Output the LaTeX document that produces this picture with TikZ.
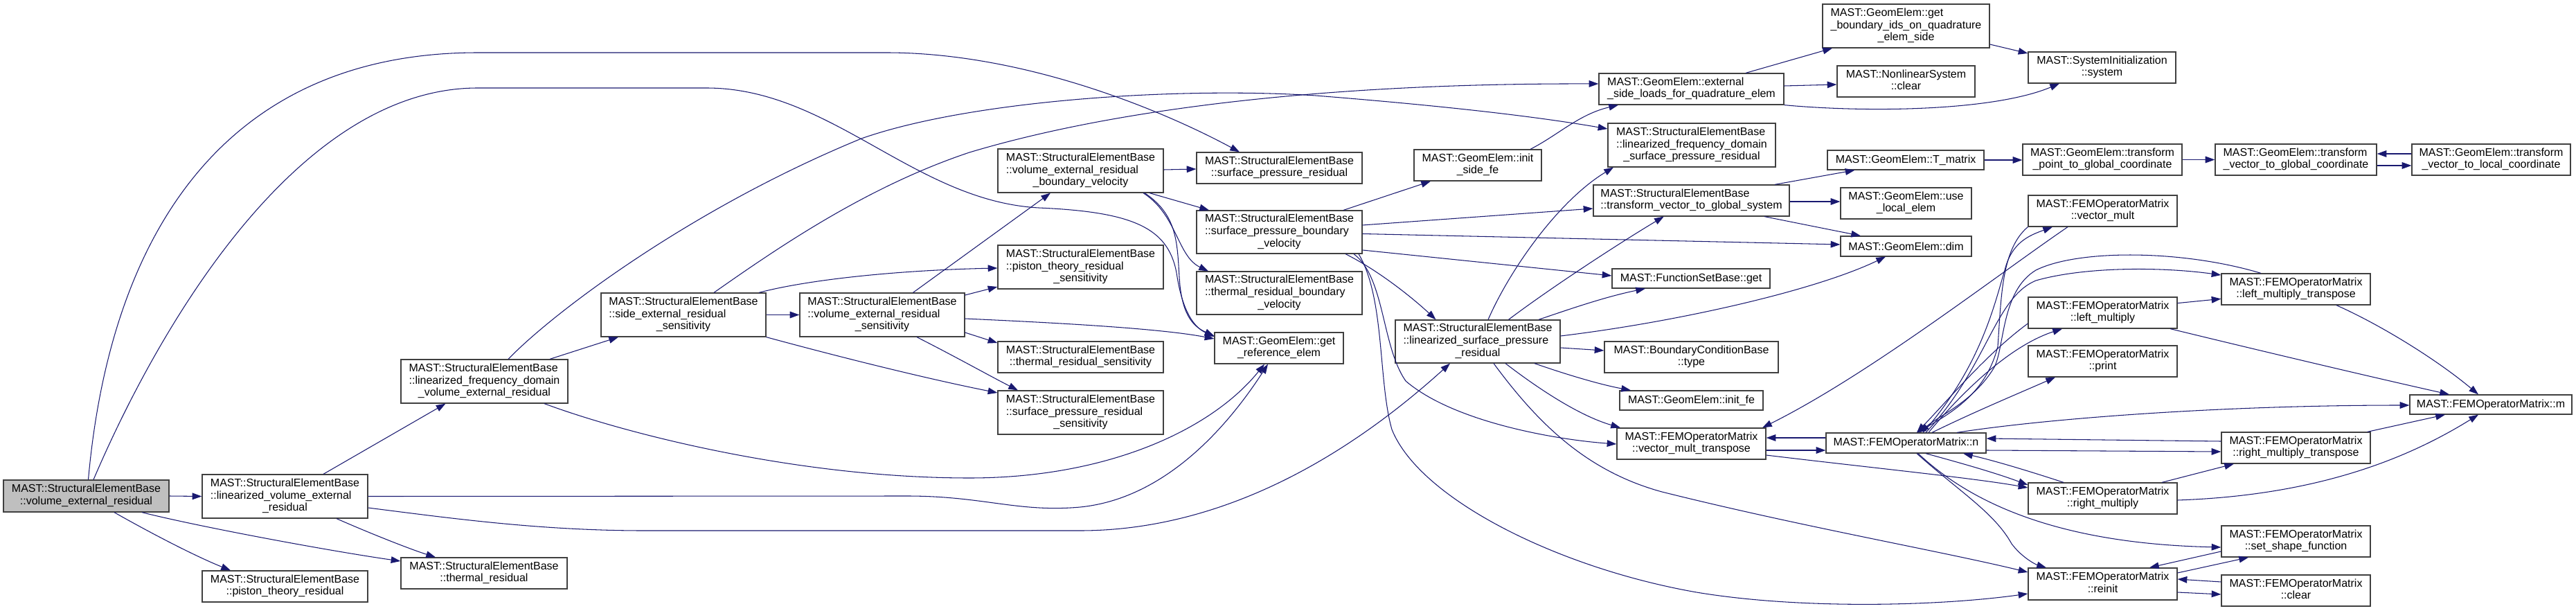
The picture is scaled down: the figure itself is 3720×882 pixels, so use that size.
\documentclass[tikz,border=0pt]{standalone}
\usepackage{fontspec}
\setmainfont{Liberation Sans}
\usetikzlibrary{arrows.meta}
\definecolor{edgec}{HTML}{191970}
\definecolor{boxline}{HTML}{404040}
\definecolor{rootfill}{HTML}{BFBFBF}
\newcommand{\lab}[2]{\begin{tabular}{@{}l@{}}#1\\\multicolumn{1}{@{}c@{}}{#2}\end{tabular}}
\newcommand{\bx}[7][]{%
  \pgfmathsetlengthmacro{\myBW}{(#4-#3)*0.02cm}%
  \pgfmathsetlengthmacro{\myBH}{(#6-#5)*0.02cm}%
  \node[fnbox,#1,minimum width=\myBW,minimum height=\myBH] (#2) at ({(#3+#4)/2},{(#5+#6)/2}) {#7};}
\tikzset{
  fnbox/.style={draw=boxline, line width=0.7pt, fill=white, inner sep=0pt,
    font=\fontsize{9.1pt}{10.03pt}\selectfont},
  rootbox/.style={fill=rootfill},
  calledge/.style={draw=edgec, line width=0.6pt, -{Triangle[length=7.8pt,width=5.5pt]}}
}
\begin{document}
\begin{tikzpicture}[x=0.02cm,y=-0.02cm]
\path[use as bounding box, fill=white] (0,0) rectangle (3720,882);
% nodes
\bx[rootbox]{root}{5}{244}{693}{739}{\lab{MAST::StructuralElementBase}{::volume\_external\_residual}}
\bx{linVol}{292}{531}{685}{748}{\lab{MAST::StructuralElementBase\\::linearized\_volume\_external}{\_residual}}
\bx{piston}{292}{531}{824}{869}{\lab{MAST::StructuralElementBase}{::piston\_theory\_residual}}
\bx{linFreqVol}{579}{820}{519}{582}{\lab{MAST::StructuralElementBase\\::linearized\_frequency\_domain}{\_volume\_external\_residual}}
\bx{thermal}{579}{819}{805}{850}{\lab{MAST::StructuralElementBase}{::thermal\_residual}}
\bx{sideExt}{868}{1106}{423}{486}{\lab{MAST::StructuralElementBase\\::side\_external\_residual}{\_sensitivity}}
\bx{volExtSens}{1155}{1393}{423}{486}{\lab{MAST::StructuralElementBase\\::volume\_external\_residual}{\_sensitivity}}
\bx{volExtBV}{1441}{1680}{215}{278}{\lab{MAST::StructuralElementBase\\::volume\_external\_residual}{\_boundary\_velocity}}
\bx{pistonSens}{1441}{1680}{354}{417}{\lab{MAST::StructuralElementBase\\::piston\_theory\_residual}{\_sensitivity}}
\bx{thermSens}{1441}{1680}{493}{538}{\lab{MAST::StructuralElementBase}{::thermal\_residual\_sensitivity}}
\bx{surfPresSens}{1441}{1680}{564}{627}{\lab{MAST::StructuralElementBase\\::surface\_pressure\_residual}{\_sensitivity}}
\bx{surfPres}{1728}{1967}{220}{265}{\lab{MAST::StructuralElementBase}{::surface\_pressure\_residual}}
\bx{spbv}{1728}{1967}{304}{366}{\lab{MAST::StructuralElementBase\\::surface\_pressure\_boundary}{\_velocity}}
\bx{trbv}{1728}{1967}{392}{454}{\lab{MAST::StructuralElementBase\\::thermal\_residual\_boundary}{\_velocity}}
\bx{getRef}{1754}{1940}{480}{525}{\lab{MAST::GeomElem::get}{\_reference\_elem}}
\bx{initSide}{2042}{2226}{216}{261}{\lab{MAST::GeomElem::init}{\_side\_fe}}
\bx{extSide}{2309}{2576}{106}{151}{\lab{MAST::GeomElem::external}{\_side\_loads\_for\_quadrature\_elem}}
\bx{linFreqSurf}{2322}{2564}{178}{241}{\lab{MAST::StructuralElementBase\\::linearized\_frequency\_domain}{\_surface\_pressure\_residual}}
\bx{tvgs}{2301}{2584}{267}{312}{\lab{MAST::StructuralElementBase}{::transform\_vector\_to\_global\_system}}
\bx{fsbGet}{2328}{2556}{388}{416}{MAST::FunctionSetBase::get}
\bx{linSurfPres}{2015}{2253}{462}{524}{\lab{MAST::StructuralElementBase\\::linearized\_surface\_pressure}{\_residual}}
\bx{bcType}{2317}{2568}{493}{538}{\lab{MAST::BoundaryConditionBase}{::type}}
\bx{initFe}{2339}{2546}{564}{592}{MAST::GeomElem::init\_fe}
\bx{vmt}{2335}{2550}{618}{663}{\lab{MAST::FEMOperatorMatrix}{::vector\_mult\_transpose}}
\bx{getBnd}{2632}{2873}{6}{69}{\lab{MAST::GeomElem::get\\\_boundary\_ids\_on\_quadrature}{\_elem\_side}}
\bx{nlClear}{2653}{2852}{95}{140}{\lab{MAST::NonlinearSystem}{::clear}}
\bx{sysInit}{2929}{3142}{75}{120}{\lab{MAST::SystemInitialization}{::system}}
\bx{Tmat}{2639}{2865}{217}{245}{MAST::GeomElem::T\_matrix}
\bx{tpg}{2921}{3151}{208}{253}{\lab{MAST::GeomElem::transform}{\_point\_to\_global\_coordinate}}
\bx{tvg}{3199}{3432}{208}{253}{\lab{MAST::GeomElem::transform}{\_vector\_to\_global\_coordinate}}
\bx{tvl}{3483}{3712}{208}{253}{\lab{MAST::GeomElem::transform}{\_vector\_to\_local\_coordinate}}
\bx{useLocal}{2658}{2847}{271}{316}{\lab{MAST::GeomElem::use}{\_local\_elem}}
\bx{dim}{2658}{2847}{341}{370}{MAST::GeomElem::dim}
\bx{vmult}{2929}{3144}{282}{327}{\lab{MAST::FEMOperatorMatrix}{::vector\_mult}}
\bx{lmt}{3208}{3423}{395}{440}{\lab{MAST::FEMOperatorMatrix}{::left\_multiply\_transpose}}
\bx{lm}{2929}{3144}{429}{474}{\lab{MAST::FEMOperatorMatrix}{::left\_multiply}}
\bx{print}{2929}{3144}{499}{544}{\lab{MAST::FEMOperatorMatrix}{::print}}
\bx{m}{3480}{3714}{570}{598}{MAST::FEMOperatorMatrix::m}
\bx{n}{2637}{2868}{625}{654}{MAST::FEMOperatorMatrix::n}
\bx{rmt}{3208}{3423}{624}{669}{\lab{MAST::FEMOperatorMatrix}{::right\_multiply\_transpose}}
\bx{rm}{2929}{3144}{697}{742}{\lab{MAST::FEMOperatorMatrix}{::right\_multiply}}
\bx{ssf}{3208}{3423}{759}{804}{\lab{MAST::FEMOperatorMatrix}{::set\_shape\_function}}
\bx{reinit}{2929}{3144}{820}{866}{\lab{MAST::FEMOperatorMatrix}{::reinit}}
\bx{clear}{3208}{3423}{830}{875}{\lab{MAST::FEMOperatorMatrix}{::clear}}
% edges
\draw[calledge] (root.east) -- (linVol.west);
\draw[calledge] (root.south -| 205,0) .. controls (290,761) and (480,796) .. (thermal.west |- 0,810);
\draw[calledge] (root.south -| 165,0) .. controls (215,768) and (280,802) .. (piston.north -| 333,0);
\draw[calledge] (root.north -| 127.5,0) .. controls (160,330) and (330,76) .. (690,76) -- (1280,76) .. controls (1480,76) and (1680,160) .. (surfPres.north -| 1790,0);
\draw[calledge] (root.north -| 135,0) .. controls (230,470) and (430,127) .. (690,127) -- (1020,127) .. controls (1200,127) and (1320,290) .. (1500,300) .. controls (1640,306) and (1690,330) .. (1700,400) .. controls (1710,460) and (1730,475) .. (getRef.west |- 0,486);
\draw[calledge] (linVol.north -| 467,0) -- (linFreqVol.south -| 643.5,0);
\draw[calledge] (linVol.south -| 486,0) .. controls (530,768) and (590,792) .. (thermal.north -| 629,0);
\draw[calledge] (linVol.east) -- (1310,716) .. controls (1420,716) and (1470,740) .. (1560,732) .. controls (1680,720) and (1770,620) .. (getRef.south -| 1831,0);
\draw[calledge] (linVol.east |- 0,733) .. controls (650,748) and (780,766) .. (930,766) -- (1560,766) .. controls (1720,766) and (1900,700) .. (linSurfPres.south -| 2094,0);
\draw[calledge] (linFreqVol.north -| 794,0) -- (sideExt.south -| 893,0);
\draw[calledge] (linFreqVol.north -| 734,0) .. controls (800,450) and (1000,300) .. (1244,200) .. controls (1400,145) and (1700,125) .. (1900,138) .. controls (2050,150) and (2200,165) .. (linFreqSurf.west |- 0,186);
\draw[calledge] (linFreqVol.south -| 786,0) .. controls (900,625) and (1150,690) .. (1400,690) .. controls (1600,690) and (1750,620) .. (getRef.south -| 1826,0);
\draw[calledge] (sideExt.east) -- (volExtSens.west);
\draw[calledge] (sideExt.north -| 1096,0) .. controls (1170,403) and (1300,390) .. (pistonSens.west |- 0,387);
\draw[calledge] (sideExt.south east) .. controls (1200,512) and (1330,545) .. (surfPresSens.west |- 0,567);
\draw[calledge] (sideExt.north -| 1031,0) .. controls (1120,360) and (1250,270) .. (1400,220) .. controls (1600,160) and (1900,120) .. (extSide.west |- 0,121);
\draw[calledge] (volExtSens.north -| 1318.5,0) -- (volExtBV.south -| 1517,0);
\draw[calledge] (volExtSens.east |- 0,426) -- (pistonSens.west |- 0,414);
\draw[calledge] (volExtSens.east |- 0,480) -- (thermSens.west |- 0,495);
\draw[calledge] (volExtSens.south -| 1324,0) .. controls (1380,515) and (1430,543) .. (surfPresSens.north -| 1470,0);
\draw[calledge] (volExtSens.east |- 0,460) .. controls (1550,467) and (1680,475) .. (getRef.west |- 0,489);
\draw[calledge] (volExtBV.east |- 0,245) -- (surfPres.west |- 0,244);
\draw[calledge] (volExtBV.south -| 1660,0) -- (spbv.north -| 1746,0);
\draw[calledge] (volExtBV.south -| 1651,0) .. controls (1700,310) and (1700,370) .. (trbv.north -| 1745,0);
\draw[calledge] (volExtBV.south -| 1653,0) .. controls (1700,310) and (1700,350) .. (1703,400) .. controls (1706,450) and (1720,470) .. (getRef.west |- 0,485);
\draw[calledge] (spbv.north -| 1940,0) -- (initSide.south -| 2066,0);
\draw[calledge] (spbv.east |- 0,325) -- (tvgs.west |- 0,301);
\draw[calledge] (spbv.east |- 0,337.5) -- (dim.west |- 0,353);
\draw[calledge] (spbv.east |- 0,361) -- (fsbGet.west |- 0,398);
\draw[calledge] (spbv.south -| 1943,0) .. controls (1990,390) and (2040,430) .. (linSurfPres.north -| 2073.5,0);
\draw[calledge] (spbv.south -| 1955,0) .. controls (2000,400) and (1995,500) .. (2030,550) .. controls (2100,610) and (2250,635) .. (vmt.west |- 0,641);
\draw[calledge] (spbv.south -| 1962,0) .. controls (2000,430) and (1990,550) .. (2010,620) .. controls (2050,720) and (2250,820) .. (2450,855) .. controls (2600,880) and (2800,875) .. (reinit.west |- 0,857);
\draw[calledge] (linSurfPres.north -| 2149,0) .. controls (2180,390) and (2250,290) .. (linFreqSurf.south -| 2330,0);
\draw[calledge] (linSurfPres.north -| 2178.5,0) .. controls (2240,415) and (2340,350) .. (tvgs.south -| 2402.7,0);
\draw[calledge] (linSurfPres.north -| 2222,0) .. controls (2270,445) and (2320,428) .. (fsbGet.south -| 2376,0);
\draw[calledge] (linSurfPres.east |- 0,485) .. controls (2420,465) and (2620,420) .. (dim.south -| 2723,0);
\draw[calledge] (linSurfPres.east |- 0,502) -- (bcType.west |- 0,506);
\draw[calledge] (linSurfPres.south -| 2216,0) .. controls (2260,540) and (2310,555) .. (initFe.north -| 2355,0);
\draw[calledge] (linSurfPres.south -| 2174,0) .. controls (2220,560) and (2280,600) .. (vmt.north -| 2340,0);
\draw[calledge] (linSurfPres.south -| 2157,0) .. controls (2220,610) and (2290,680) .. (2400,710) .. controls (2600,760) and (2800,795) .. (reinit.west |- 0,826);
\draw[calledge] (initSide.north -| 2210,0) .. controls (2250,195) and (2280,165) .. (extSide.south -| 2337,0);
\draw[calledge] (extSide.north -| 2521,0) -- (getBnd.south -| 2646,0);
\draw[calledge] (extSide.east |- 0,124) -- (nlClear.west |- 0,122);
\draw[calledge] (extSide.south east) .. controls (2700,163) and (2880,160) .. (sysInit.south -| 2974,0);
\draw[calledge] (getBnd.east |- 0,64) -- (sysInit.west |- 0,77);
\draw[calledge] (tvgs.north -| 2563,0) -- (Tmat.south -| 2678.5,0);
\draw[calledge] (tvgs.east |- 0,291) -- (useLocal.west |- 0,291);
\draw[calledge] (tvgs.south -| 2548,0) -- (dim.north -| 2687,0);
\draw[calledge] (Tmat.east) -- (tpg.west |- Tmat.east);
\draw[calledge] (tpg.east) -- (tvg.west);
\draw[calledge] (tvg.east |- 0,239) -- (tvl.west |- 0,239);
\draw[calledge] (tvl.west |- 0,222) -- (tvg.east |- 0,222);
\draw[calledge] (vmt.east |- 0,650) -- (n.west |- 0,650);
\draw[calledge] (n.west |- 0,632) -- (vmt.east |- 0,632);
\draw[calledge] (vmult.south -| 2986,0) .. controls (2880,400) and (2700,540) .. (vmt.north -| 2545,0);
\draw[calledge] (n.north -| 2777,0) .. controls (2860,530) and (2880,440) .. (2895,390) .. controls (2905,350) and (2930,340) .. (vmult.south -| 2964,0);
\draw[calledge] (vmult.south west) .. controls (2890,360) and (2890,430) .. (2885,500) .. controls (2870,560) and (2830,590) .. (n.north -| 2768,0);
\draw[calledge] (n.north -| 2781,0) .. controls (2870,530) and (2880,430) .. (2940,405) .. controls (3010,385) and (3120,385) .. (lmt.west |- 0,397);
\draw[calledge] (lmt.north -| 3265,0) .. controls (3150,360) and (3000,360) .. (2940,390) .. controls (2890,420) and (2895,500) .. (2880,530) .. controls (2850,580) and (2800,600) .. (n.north -| 2772,0);
\draw[calledge] (lm.east |- 0,437.6) -- (lmt.west |- 0,431.4);
\draw[calledge] (lm.south -| 3134,0) .. controls (3300,515) and (3450,550) .. (m.north -| 3537,0);
\draw[calledge] (lmt.south -| 3374,0) .. controls (3440,470) and (3520,520) .. (m.north -| 3579,0);
\draw[calledge] (n.north -| 2785,0) .. controls (2830,570) and (2900,500) .. (lm.south -| 2978,0);
\draw[calledge] (lm.west |- 0,467) .. controls (2870,510) and (2820,570) .. (n.north -| 2768,0);
\draw[calledge] (n.north -| 2790,0) .. controls (2850,595) and (2910,570) .. (print.south -| 2968,0);
\draw[calledge] (n.north -| 2826,0) .. controls (2950,605) and (3200,585) .. (m.west |- 0,585);
\draw[calledge] (rmt.west |- 0,637) -- (n.east |- 0,633);
\draw[calledge] (n.east |- 0,650) -- (rmt.west |- 0,652);
\draw[calledge] (rmt.north -| 3418.7,0) -- (m.south -| 3531,0);
\draw[calledge] (rm.north -| 3122,0) -- (rmt.south -| 3226,0);
\draw[calledge] (rm.east |- 0,722) .. controls (3350,715) and (3480,660) .. (m.south -| 3579,0);
\draw[calledge] (rm.north -| 2980,0) .. controls (2930,680) and (2880,665) .. (n.south -| 2835,0);
\draw[calledge] (n.south -| 2781,0) .. controls (2830,668) and (2880,682) .. (rm.west |- 0,700);
\draw[calledge] (vmt.east |- 0,657) .. controls (2700,675) and (2850,690) .. (rm.west |- 0,704);
\draw[calledge] (n.south -| 2768,0) .. controls (2830,710) and (2880,740) .. (2905,785) .. controls (2920,805) and (2940,815) .. (reinit.north -| 2955,0);
\draw[calledge] (n.south -| 2770,0) .. controls (2850,730) and (2980,785) .. (ssf.west |- 0,790);
\draw[calledge] (ssf.west |- 0,796) -- (reinit.north -| 3104,0);
\draw[calledge] (reinit.east |- 0,827) -- (ssf.south -| 3247,0);
\draw[calledge] (reinit.east |- 0,855) -- (clear.west |- 0,858);
\draw[calledge] (clear.west |- 0,840) -- (reinit.east |- 0,836);
\end{tikzpicture}
\end{document}
